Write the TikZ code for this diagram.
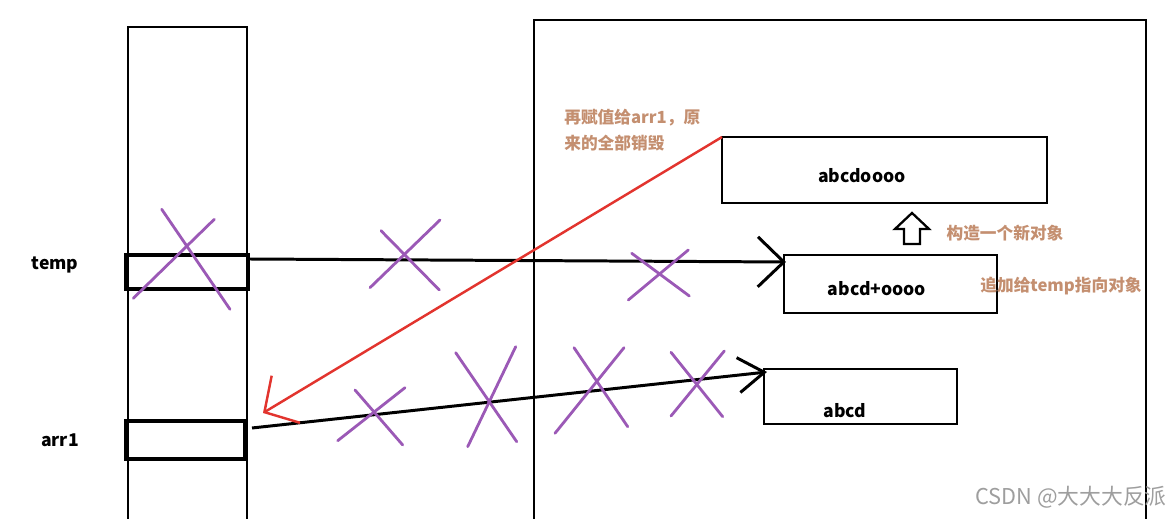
\documentclass[tikz,border=0pt]{standalone}
\usepackage{fontspec}
\setmainfont{Noto Sans CJK SC}
\usepackage{tikz}
\usetikzlibrary{arrows.meta}

\definecolor{brun}{RGB}{196,143,112}
\definecolor{mauve}{RGB}{155,89,182}
\definecolor{rouge}{RGB}{226,52,46}

\begin{document}
\begin{tikzpicture}[
  x=0.02cm, y=-0.02cm,
  zone/.style={
    draw=black, line width=1.5pt, inner sep=0pt, outer sep=0pt,
    anchor=north west, minimum height=11cm
  },
  cell/.style={
    draw=black, line width=1.8pt, inner sep=0pt, outer sep=0pt
  },
  obj/.style={
    draw=black, line width=1.5pt, inner sep=0pt, outer sep=0pt
  },
  tag/.style={
    font=\bfseries\fontsize{10}{12}\selectfont, inner sep=0pt
  },
  note/.style={
    text=brun, font=\bfseries\fontsize{9.5}{15.2}\selectfont,
    align=left, inner sep=0pt
  },
  cross/.style={draw=mauve, line width=1.6pt, line cap=round},
  ptr/.style={
    -{Straight Barb[length=0.52cm, width=1.0cm]},
    draw=black, line width=1.7pt
  }
]
\useasboundingbox (0,0) rectangle (1171,519);

% ----- pile (gauche) -----
\node[zone, minimum width=2.38cm] (stack) at (128,27) {};
\node[cell, minimum width=2.44cm, minimum height=0.68cm] (temp) at (187,272) {};
\node[cell, minimum width=2.38cm, minimum height=0.76cm] (arr1) at (185.5,440) {};
\node[tag] (tempLbl) at (55,265) {temp};
\node[tag] (arrLbl)  at (60,440) {arr1};

% ----- tas (droite) -----
\node[zone, minimum width=12.24cm] (heap) at (534,20) {};
\node[obj, minimum width=6.50cm, minimum height=1.32cm] (newobj) at (884.5,170) {};
\node[tag] (newTxt) at (862,176) {abcdoooo};
\node[obj, minimum width=4.26cm, minimum height=1.16cm] (plus) at (890.5,284) {};
\node[tag] (plusTxt) at (877,289) {abcd+oooo};
\node[obj, minimum width=3.86cm, minimum height=1.10cm] (abcd) at (860.5,396.5) {};
\node[tag] (abcdTxt) at (845,411) {abcd};

% fleche creuse
\draw[line width=1.3pt, fill=white, line join=miter]
  (904,244) -- (904,229) -- (895,229) -- (912,213) -- (929,229)
  -- (920,229) -- (920,244) -- cycle;

% ----- notes -----
\node[note, anchor=west] (reassign) at (564,130) {再赋值给arr1，原\\来的全部销毁};
\node[note] (build)  at (1005,233) {构造一个新对象};
\node[note] (append) at (1061,286) {追加给temp指向对象};
\node[font=\fontsize{12.4}{14}\selectfont, text=black!38, inner sep=0pt] (mark)
  at (1071,497) {CSDN @大大大反派};

% ----- pointeurs -----
\coordinate (tempOut) at (249,259);
\coordinate (plusIn)  at (786,262);
\coordinate (arrOut)  at (252,428);
\coordinate (abcdIn)  at (767,372);
\coordinate (arrIn)   at (263,413);

\draw[ptr] (tempOut) -- (plusIn);
\draw[ptr, -{Straight Barb[length=0.52cm, width=0.7cm]}] (arrOut) -- (abcdIn);
\draw[ptr, draw=rouge, line width=1.4pt, -{Straight Barb[length=0.5cm, width=1.1cm]}]
  (newobj.north west) -- (arrIn);

% ----- croix -----
\draw[cross] (161.7,209.3) -- (230,309.3);
\draw[cross] (214.3,219.3) -- (133.3,298.3);
\draw[cross] (381,230.7) -- (439.3,290);
\draw[cross] (440,220) -- (370,287.7);
\draw[cross] (631.7,253.3) -- (689.3,296);
\draw[cross] (688.3,250) -- (628.3,300);
\draw[cross] (355,390) -- (402.7,445);
\draw[cross] (405,387.7) -- (337.7,440.7);
\draw[cross] (455.7,352.7) -- (516.7,441.7);
\draw[cross] (515.7,346.7) -- (467.7,446.7);
\draw[cross] (574,347.7) -- (627.7,426.7);
\draw[cross] (624,347.7) -- (555,433.3);
\draw[cross] (671,352.3) -- (722.7,416.7);
\draw[cross] (724.3,351) -- (671,416);

\end{tikzpicture}
\end{document}
